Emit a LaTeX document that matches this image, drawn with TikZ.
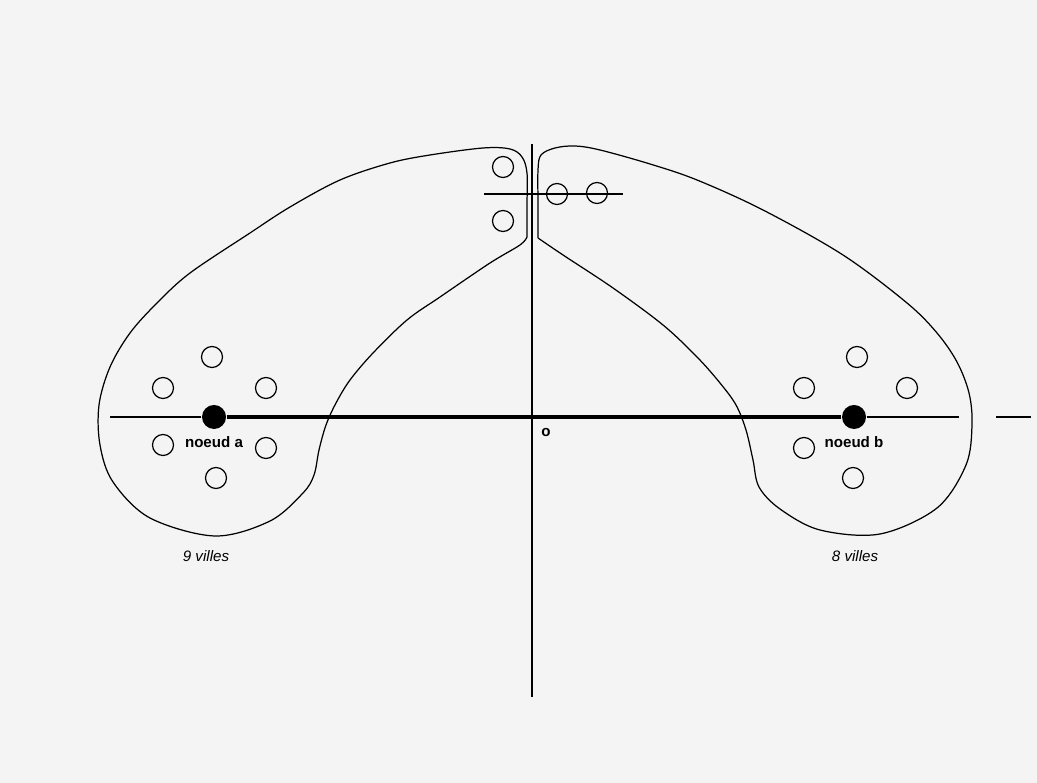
\documentclass[tikz,border=0pt]{standalone}
\usepackage{fontspec}
\setmainfont{Liberation Sans}
\usetikzlibrary{positioning}
\definecolor{fond}{HTML}{F4F4F4}
\tikzset{
    every node/.style={font=\fontsize{4.3}{5}\selectfont,inner sep=0pt},
    ville/.style={circle,draw,line width=0.35pt,minimum size=2.1mm,inner sep=0pt},
    noeud/.style={circle,fill=black,minimum size=2.4mm,inner sep=0pt},
    zone/.style={line width=0.35pt},
    axe/.style={line width=0.4pt},
    lien/.style={line width=1.1pt},
    nom/.style={font=\fontsize{4.3}{5}\selectfont\bfseries},
    compte/.style={font=\fontsize{4.3}{5}\selectfont\itshape}
}
\begin{document}
\begin{tikzpicture}[x=0.01cm,y=-0.01cm]
\fill[fond] (0,0) rectangle (1037,783);
\useasboundingbox (0,0) rectangle (1037,783);
% axes
\coordinate (haut) at (532,144);
\coordinate (bas) at (532,697);
\coordinate (gauche) at (110,417);
\coordinate (droite) at (959,417);
\coordinate (bord1) at (996,417);
\coordinate (bord2) at (1031,417);
\coordinate (t1) at (484,194);
\coordinate (t2) at (623,194);
\draw[axe] (haut)--(bas);
\draw[axe] (t1)--(t2);
% zones
\draw[zone] plot[smooth,tension=0.55] coordinates {(527,237) (527,205) (527,173) (522,157) (510,149) (483,148) (430,155) (390,163) (340,180) (290,207) (250,233) (190,273) (157,303) (130,333) (110,367) (99,405) (100,445) (113,482) (150,518) (215,536) (270,521) (303,493) (314,475) (319,450) (326,425) (336,403) (350,380) (373,353) (407,320) (440,297) (490,263) (520,245) (527,237)};
\draw[zone] plot[smooth,tension=0.55] coordinates {(538,238) (538,205) (538,170) (541,155) (555,148) (575,146) (600,150) (650,164) (697,180) (763,210) (843,255) (907,303) (937,333) (957,362) (969,393) (972,425) (966,465) (937,508) (880,534) (820,530) (780,509) (759,487) (753,460) (746,430) (736,405) (720,383) (697,357) (663,325) (613,288) (563,255) (538,238)};
% noeuds
\node[noeud] (a) at (214,417) {};
\node[noeud] (b) at (854,417) {};
\draw[axe] (gauche)--(a);
\draw[axe] (b)--(droite);
\draw[axe] (bord1)--(bord2);
\draw[lien] (a)--(b);
\node[nom,below=0.6mm of a] (la) {noeud a};
\node[nom,below=0.6mm of b] (lb) {noeud b};
\node[nom] (o) at (546,433) {o};
% villes
\node[ville] (v1) at (212,357) {};
\node[ville] (v2) at (163,388) {};
\node[ville] (v3) at (266,388) {};
\node[ville] (v4) at (163,445) {};
\node[ville] (v5) at (266,448) {};
\node[ville] (v6) at (216,478) {};
\node[ville] (w1) at (857,357) {};
\node[ville] (w2) at (804,388) {};
\node[ville] (w3) at (907,388) {};
\node[ville] (w4) at (804,448) {};
\node[ville] (w5) at (853,478) {};
\node[ville] (c1) at (503,167) {};
\node[ville] (c2) at (503,221) {};
\node[ville] (c3) at (557,194) {};
\node[ville] (c4) at (597,193) {};
\node[compte] (na) at (206,556) {9 villes};
\node[compte] (nb) at (855,556) {8 villes};
\end{tikzpicture}
\end{document}
